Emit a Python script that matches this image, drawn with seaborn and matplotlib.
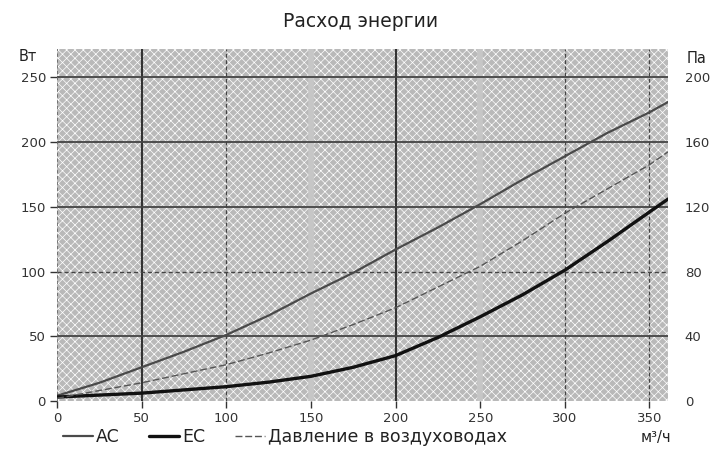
import numpy as np
import pandas as pd
import matplotlib.pyplot as plt
import seaborn as sns

# airflow, m3/h
flow = [0, 25, 50, 75, 100, 125, 150, 175, 200, 225, 250, 275, 300, 325, 350, 361]
# power consumption, W
power_ac = [4, 14, 26, 38, 51, 66, 83, 99, 117, 134, 152, 171, 189, 207, 223, 231]
power_ec = [3, 4.5, 6, 8.5, 11, 14.5, 19, 26, 35, 49, 65, 82, 101, 123, 146, 156]
# duct pressure, Pa
pressure = [1.6, 6.4, 11.2, 16.8, 22.4, 29.6, 37.6, 47.2, 57.6, 70.4, 83.2, 99, 116, 131, 146, 154]

x_ticks = [0, 50, 100, 150, 200, 250, 300, 350]
w_ticks = [0, 50, 100, 150, 200, 250]
pa_ticks = [0, 40, 80, 120, 160, 200]

sns.set_theme(style="white")
plt.rcParams['font.family'] = ['DejaVu Sans']
plt.rcParams['hatch.color'] = 'white'
plt.rcParams['hatch.linewidth'] = 0.5

df = pd.DataFrame({'flow': flow, 'AC': power_ac, 'EC': power_ec, 'p': pressure})

fig = plt.figure(figsize=(7.13, 4.53), dpi=100)
ax = fig.add_axes([0.080, 0.115, 0.857, 0.777])
ax.set_facecolor('#b9b9b9')
ax.patch.set_hatch('xxxx')
ax.patch.set_edgecolor('white')
ax.patch.set_linewidth(0)

# grid lines, styled like the original
for v in x_ticks[1:]:
    if v in (50, 200):
        ax.axvline(v, color='#333333', lw=1.5, zorder=1)
    elif v in (150, 250):
        ax.axvline(v, color='#c6c6c6', lw=4, zorder=1)
    else:
        ax.axvline(v, color='#444444', lw=0.9, ls=(0, (3, 2)), zorder=1)
for v in w_ticks[1:]:
    if v == 100:
        ax.axhline(v, color='#444444', lw=1.0, ls=(0, (3, 2)), zorder=1)
    else:
        ax.axhline(v, color='#444444', lw=1.3, zorder=1)
ax.axvline(0, color='#666666', lw=1.2, ls=(0, (2, 1.5)), zorder=1)

sns.lineplot(data=df, x='flow', y='AC', ax=ax, color='#4a4a4a', lw=1.6, label='AC', zorder=3)
sns.lineplot(data=df, x='flow', y='EC', ax=ax, color='#111111', lw=2.4, label='EC', zorder=3)

ax2 = ax.twinx()
sns.lineplot(data=df, x='flow', y='p', ax=ax2, color='#555555', lw=1.0,
             dashes=False, label='Давление в воздуховодах', zorder=3)
ax2.lines[0].set_linestyle((0, (5, 2)))

ax.set_xlim(0, 361)
ax.set_ylim(0, 272)
ax2.set_ylim(0, 272 * 0.8)

for a in (ax, ax2):
    for s in a.spines.values():
        s.set_visible(False)
    a.set_xlabel('')
    a.set_ylabel('')

ax.set_xticks(x_ticks)
ax.set_yticks(w_ticks)
ax2.set_yticks(pa_ticks)
ax.tick_params(axis='both', labelsize=9.5, colors='#333333', length=5, width=1, pad=3, direction='out')
ax.tick_params(axis='y', left=True)
ax.tick_params(axis='x', bottom=True)
ax2.tick_params(axis='y', labelsize=9.5, colors='#333333', right=False, pad=6)

# legend below the plot
h1, l1 = ax.get_legend_handles_labels()
h2, l2 = ax2.get_legend_handles_labels()
ax.get_legend().remove()
ax2.get_legend().remove()
fig.legend(h1 + h2, l1 + l2, loc='center left', bbox_to_anchor=(0.066, 0.035),
           ncol=3, frameon=False, fontsize=12.5, handlelength=1.75,
           handletextpad=0.15, columnspacing=1.7, labelcolor='#222222')

fig.text(0.505, 0.952, 'Расход энергии', ha='center', va='center', fontsize=13.5, color='#222222')
fig.text(0.039, 0.876, 'Вт', ha='center', va='center', fontsize=10.5, color='#222222')
fig.text(0.977, 0.870, 'Па', ha='center', va='center', fontsize=10.5, color='#222222')
fig.text(0.92, 0.035, 'м³/ч', ha='center', va='center', fontsize=10.5, color='#222222')

fig.savefig('out.png', dpi=100)
plt.close(fig)
